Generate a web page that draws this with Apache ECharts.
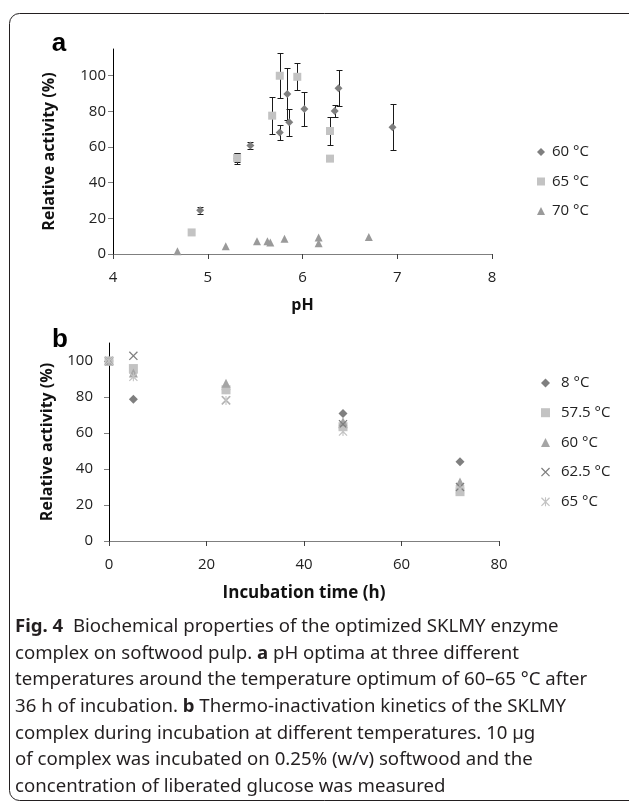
<!DOCTYPE html>
<html><head><meta charset="utf-8">
<script src="https://cdn.jsdelivr.net/npm/echarts@6/dist/echarts.min.js"></script>
<style>html,body{margin:0;padding:0;background:#fff}#c{width:629px;height:805px}</style>
</head><body><div id="c"></div>
<script>
// ---- data: panel a (pH, relative activity %, error) ----
const actTicks = [0, 20, 40, 60, 80, 100];
const ph60 = [[4.92,24.6,1.9],[5.31,53.5,3],[5.45,60.8,1.9],[5.76,68.1,4.3],[5.84,89.7,14.4],[5.86,73.9,7.6],[6.02,81.4,9.4],[6.34,80.2,3.2],[6.38,93.0,10],[6.95,71.1,13]];
const ph65 = [[4.83,12.1,0],[5.31,53.9,2.5],[5.68,77.6,10.3],[5.76,100,12.6],[5.945,99.4,7.6],[6.29,69.0,8],[6.29,53.5,0]];
const ph70 = [[4.68,1.5],[5.19,4.3],[5.52,7.1],[5.63,7.1],[5.66,6.5],[5.81,8.6],[6.17,9.3],[6.17,6.1],[6.70,9.5]];
// ---- data: panel b (incubation time h, relative activity %) ----
const timeH = [0, 5, 24, 48, 72];
const t8   = [100, 78.8, 84.0, 70.9, 44.0];
const t575 = [100, 95.8, 84.0, 63.5, 27.4];
const t60  = [100, 93.4, 87.7, 66.2, 32.8];
const t625 = [100, 102.9, 78.2, 64.9, 30.0];
const t65  = [100, 91.2, 78.0, 60.8, 28.7];
const captionLines = [
  '{b|Fig. 4}  Biochemical properties of the optimized SKLMY enzyme',
  'complex on softwood pulp. {b|a} pH optima at three different',
  'temperatures around the temperature optimum of 60–65 °C after',
  '36 h of incubation. {b|b} Thermo-inactivation kinetics of the SKLMY',
  'complex during incubation at different temperatures. 10 µg',
  'of complex was incubated on 0.25% (w/v) softwood and the',
  'concentration of liberated glucose was measured'
];

const FONT = 'Open Sans';
const pair = (xs, ys) => xs.map((x, i) => [x, ys[i]]);
const crossPath = 'path://M0,1L1,0L10,9L9,10Z M9,0L10,1L1,10L0,9Z';
const starPath = 'path://M0,1L1,0L10,9L9,10Z M9,0L10,1L1,10L0,9Z M4.4,0L5.6,0L5.6,10L4.4,10Z';

function renderErr(params, api) {
  const x = api.value(0), y = api.value(1), e = api.value(2);
  if (!e) return null;
  const t = api.coord([x, y + e]), b = api.coord([x, y - e]);
  const cx = Math.round(t[0]) + 0.5, c = 3;
  const ty = Math.round(t[1]) + 0.5, by = Math.round(b[1]) + 0.5;
  const st = {stroke: '#1a1a1a', lineWidth: 1};
  return {type: 'group', children: [
    {type: 'line', shape: {x1: cx, y1: ty, x2: cx, y2: by}, style: st},
    {type: 'line', shape: {x1: cx - c, y1: ty, x2: cx + c, y2: ty}, style: st},
    {type: 'line', shape: {x1: cx - c, y1: by, x2: cx + c, y2: by}, style: st}
  ]};
}

const axLabel = {fontSize: 15, fontFamily: FONT, color: '#222'};
const nameStyle = {fontSize: 16, fontWeight: 'bold', fontFamily: FONT, color: '#111'};
const nameStyleX = {fontSize: 17, fontWeight: 'bold', fontFamily: FONT, color: '#111'};

const chart = echarts.init(document.getElementById('c'), null, {renderer: 'canvas'});
chart.setOption({
  animation: false,
  backgroundColor: '#fff',
  grid: [
    {left: 113, top: 49, width: 379, height: 205, outerBoundsMode: 'none', containLabel: false},
    {left: 109, top: 343, width: 390, height: 198, outerBoundsMode: 'none', containLabel: false}
  ],
  xAxis: [
    {type: 'value', gridIndex: 0, min: 4, max: 8, interval: 1,
     axisLine: {show: true, onZero: false, lineStyle: {color: '#7f7f7f', width: 1}},
     axisTick: {show: true, length: 5, lineStyle: {color: '#404040'}},
     axisLabel: Object.assign({margin: 16}, axLabel), splitLine: {show: false},
     name: 'pH', nameLocation: 'middle', nameGap: 43, nameTextStyle: nameStyle},
    {type: 'value', gridIndex: 1, min: 0, max: 80, interval: 20,
     axisLine: {show: true, onZero: false, lineStyle: {color: '#7f7f7f', width: 1}},
     axisTick: {show: true, length: 5, lineStyle: {color: '#404040'}},
     axisLabel: Object.assign({margin: 16}, axLabel), splitLine: {show: false},
     name: 'Incubation time (h)', nameLocation: 'middle', nameGap: 44, nameTextStyle: nameStyleX}
  ],
  yAxis: [
    {type: 'value', gridIndex: 0, min: 0, max: 115, interval: 20,
     axisLine: {show: true, onZero: false, lineStyle: {color: '#000', width: 1}},
     axisTick: {show: true, length: 5, lineStyle: {color: '#7f7f7f'}, customValues: actTicks},
     axisLabel: Object.assign({margin: 7, customValues: actTicks}, axLabel), splitLine: {show: false},
     name: 'Relative activity (%)', nameLocation: 'middle', nameGap: 56, nameTextStyle: nameStyle},
    {type: 'value', gridIndex: 1, min: 0, max: 110, interval: 20,
     axisLine: {show: true, onZero: false, lineStyle: {color: '#000', width: 1}},
     axisTick: {show: true, length: 5, lineStyle: {color: '#7f7f7f'}, customValues: actTicks},
     axisLabel: Object.assign({margin: 16, customValues: actTicks}, axLabel), splitLine: {show: false},
     name: 'Relative activity (%)', nameLocation: 'middle', nameGap: 54, nameTextStyle: nameStyle}
  ],
  legend: [
    {orient: 'vertical', left: 532, top: 137, itemWidth: 8, itemHeight: 8, itemGap: 9.5,
     selectedMode: false,
     textStyle: {fontSize: 15, fontFamily: FONT, color: '#222', lineHeight: 20, padding: [0, 0, 0, 2]},
     data: ['60 °C', '65 °C', '70 °C']},
    {orient: 'vertical', left: 536, top: 368, itemWidth: 9, itemHeight: 9, itemGap: 9.7,
     selectedMode: false,
     textStyle: {fontSize: 15, fontFamily: FONT, color: '#222', lineHeight: 20, padding: [0, 0, 0, 6]},
     data: ['8\u00a0°C', '57.5\u00a0°C', '60\u00a0°C', '62.5\u00a0°C', '65\u00a0°C']}
  ],
  series: [
    {type: 'custom', name: 'err', xAxisIndex: 0, yAxisIndex: 0, renderItem: renderErr,
     encode: {x: 0, y: 1}, data: ph60.concat(ph65), silent: true, z: 1},
    {type: 'scatter', name: '60 °C', xAxisIndex: 0, yAxisIndex: 0, symbol: 'diamond', symbolSize: 8,
     itemStyle: {color: '#7f7f7f', opacity: 1}, data: ph60.map(d => [d[0], d[1]]), z: 3},
    {type: 'scatter', name: '65 °C', xAxisIndex: 0, yAxisIndex: 0, symbol: 'rect', symbolSize: 8,
     itemStyle: {color: '#c3c3c3', opacity: 1}, data: ph65.map(d => [d[0], d[1]]), z: 3},
    {type: 'scatter', name: '70 °C', xAxisIndex: 0, yAxisIndex: 0, symbol: 'triangle', symbolSize: 8,
     itemStyle: {color: '#9a9a9a', opacity: 1}, data: ph70, z: 3},

    {type: 'scatter', name: '8\u00a0°C', xAxisIndex: 1, yAxisIndex: 1, symbol: 'diamond', symbolSize: 9,
     itemStyle: {color: '#7f7f7f', opacity: 1}, data: pair(timeH, t8), z: 3},
    {type: 'scatter', name: '57.5\u00a0°C', xAxisIndex: 1, yAxisIndex: 1, symbol: 'rect', symbolSize: 9,
     itemStyle: {color: '#c3c3c3', opacity: 1}, data: pair(timeH, t575), z: 3},
    {type: 'scatter', name: '60\u00a0°C', xAxisIndex: 1, yAxisIndex: 1, symbol: 'triangle', symbolSize: 9,
     itemStyle: {color: '#a5a5a5', opacity: 1}, data: pair(timeH, t60), z: 3},
    {type: 'scatter', name: '62.5\u00a0°C', xAxisIndex: 1, yAxisIndex: 1, symbol: crossPath, symbolSize: 9,
     itemStyle: {color: '#7f7f7f', opacity: 1}, data: pair(timeH, t625), z: 3},
    {type: 'scatter', name: '65\u00a0°C', xAxisIndex: 1, yAxisIndex: 1, symbol: starPath, symbolSize: 9,
     itemStyle: {color: '#c3c3c3', opacity: 1}, data: pair(timeH, t65), z: 3}
  ],
  graphic: [
    {type: 'rect', silent: true, shape: {x: 9.5, y: 13.5, width: 700, height: 787, r: 10},
     style: {fill: 'none', stroke: '#231f20', lineWidth: 1}},
    {type: 'text', silent: true, x: 59, y: 44,
     style: {text: 'a', fontSize: 26, fontWeight: 'bold', fontFamily: 'Liberation Sans', fill: '#000', align: 'center', verticalAlign: 'middle'}},
    {type: 'text', silent: true, x: 60, y: 340,
     style: {text: 'b', fontSize: 26, fontWeight: 'bold', fontFamily: 'Liberation Sans', fill: '#000', align: 'center', verticalAlign: 'middle'}},
    {type: 'group', silent: true, x: 15, y: 0, scaleX: 1.034,
     children: captionLines.map((t, i) => ({
       type: 'text', x: 0, y: 627 + 26.6 * i,
       style: {text: t, fontSize: 18, fontFamily: 'Noto Sans', fill: '#231f20', verticalAlign: 'middle',
         rich: {b: {fontSize: 18, fontWeight: 'bold', fontFamily: 'Noto Sans', fill: '#231f20'}}}
     }))}
  ]
});
</script></body></html>
